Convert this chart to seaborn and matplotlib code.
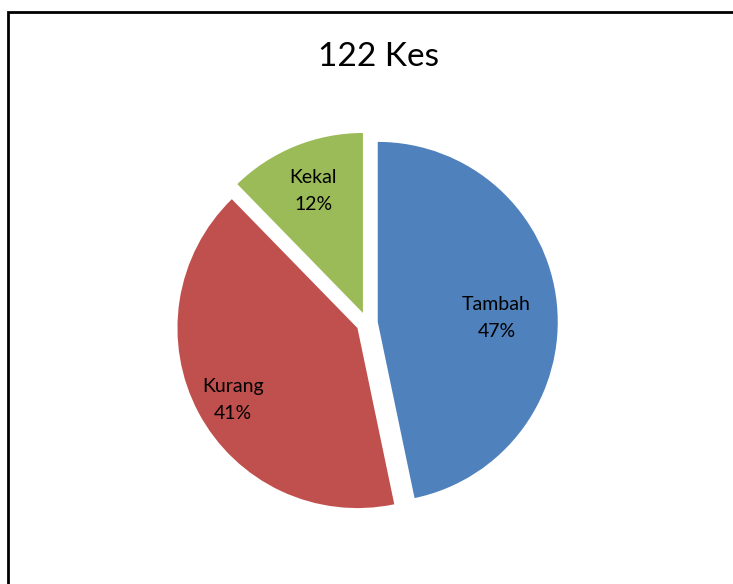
import matplotlib
matplotlib.use("Agg")
import matplotlib.pyplot as plt
from matplotlib.patches import Rectangle
import numpy as np
import seaborn as sns

# 122 cases split into three groups
categories = ["Tambah", "Kurang", "Kekal"]
counts = [57, 50, 15]
percent_labels = ["47%", "41%", "12%"]
colors = ["#4F81BD", "#C0504D", "#9BBB59"]

sns.set_style("white")
plt.rcParams['font.family'] = ['Lato', 'DejaVu Sans']
plt.rcParams['text.color'] = 'black'

fig = plt.figure(figsize=(7.33, 5.84), dpi=100)

# chart frame like the spreadsheet chart area
fig.patches.append(Rectangle((8 / 733, -0.05), 1.2, 1.05 - 12 / 584,
                             transform=fig.transFigure, fill=False,
                             edgecolor="black", linewidth=2))

ax = fig.add_axes([142 / 733, 36 / 584, 450 / 733, 450 / 584])
wedges, _ = ax.pie(counts, colors=colors, startangle=90, counterclock=False,
                   explode=[0.06] * 3, radius=1.0,
                   wedgeprops={"linewidth": 0})
ax.set_xlim(-1.25, 1.25)
ax.set_ylim(-1.25, 1.25)
ax.set_aspect("equal")
ax.axis("off")

# label distance per slice (Excel best fit), small angle nudge in degrees
dist = [0.66, 0.80, 0.73]
nudge = [-4, 2, 0]
for w, name, pct, d, n in zip(wedges, categories, percent_labels, dist, nudge):
    mid = np.deg2rad((w.theta1 + w.theta2) / 2 + n)
    cx, cy = w.center
    ax.text(cx + d * np.cos(mid), cy + d * np.sin(mid), f"{name}\n{pct}",
            ha="center", va="center", fontsize=14, linespacing=1.7,
            color="black")

fig.text(378 / 733, 1 - 57 / 584, "122 Kes", ha="center", va="center",
         fontsize=24, color="black")

fig.savefig("out.png", dpi=100)
